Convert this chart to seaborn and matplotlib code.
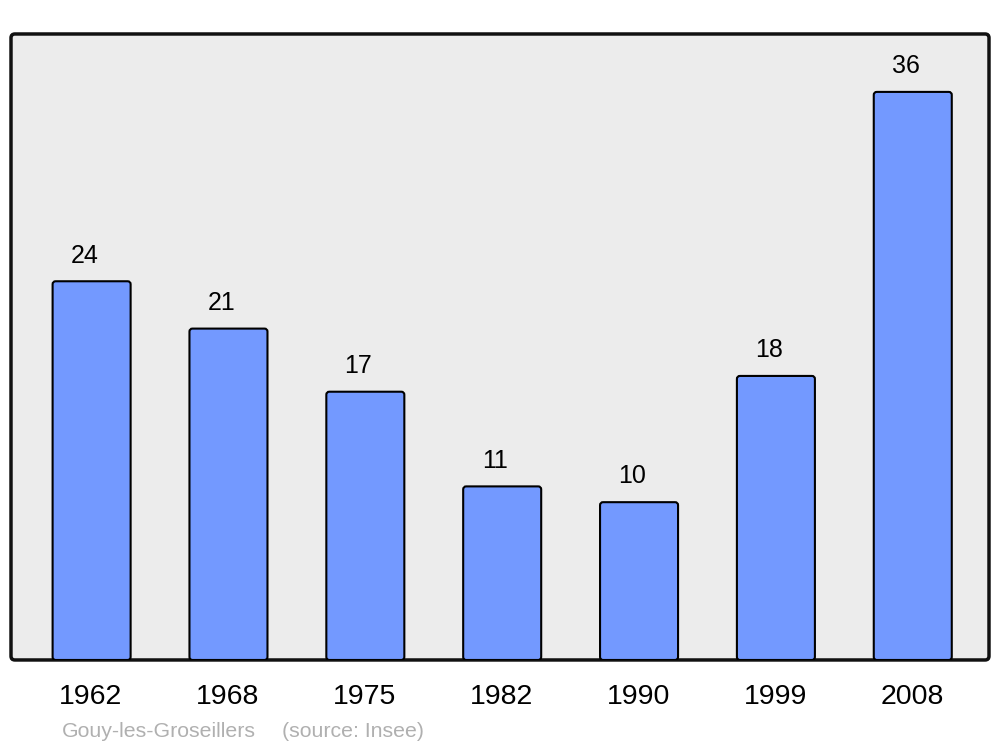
import matplotlib
matplotlib.use('Agg')
import matplotlib.pyplot as plt
from matplotlib.patches import FancyBboxPatch
import seaborn as sns
import pandas as pd

# datos
years = ['1962', '1968', '1975', '1982', '1990', '1999', '2008']
population = [24, 21, 17, 11, 10, 18, 36]
commune = 'Gouy-les-Groseillers'
source = '(source: Insee)'

df = pd.DataFrame({'year': years, 'pop': population})

sns.set_style('white')
plt.rcParams['font.family'] = ['Liberation Sans', 'DejaVu Sans']

fig = plt.figure(figsize=(10, 7.47), dpi=100)
ax = fig.add_axes([0.011, 0.1165, 0.978, 0.838])

sns.barplot(data=df, x='year', y='pop', color='#7399ff', width=0.57,
            saturation=1, edgecolor='black', linewidth=1.5, ax=ax)

ax.set_xlim(-0.584, 6.562)
ax.set_ylim(0, 39.67)

# reemplazar barras por rectangulos redondeados
px_x = 978 / (6.562 + 0.584)
px_y = 626 / 39.67
for p in list(ax.patches):
    x, y = p.get_x(), p.get_y()
    w, h = p.get_width(), p.get_height()
    p.remove()
    rb = FancyBboxPatch((x + 0.005, y), w, h,
                        boxstyle='round,pad=0,rounding_size=%f' % (3 / px_x),
                        mutation_aspect=px_x / px_y,
                        facecolor='#7399ff', edgecolor='black', linewidth=1.5,
                        zorder=2)
    ax.add_patch(rb)

# fondo con esquinas redondeadas
ax.set_facecolor('none')
for s in ax.spines.values():
    s.set_visible(False)
bg = FancyBboxPatch((0, 0), 1, 1, boxstyle='round,pad=0,rounding_size=0.004',
                    mutation_aspect=978 / 626,
                    transform=ax.transAxes, facecolor='#ececec',
                    edgecolor='#111111', linewidth=2.5, zorder=0, clip_on=False)
ax.add_patch(bg)

for i, v in enumerate(population):
    ax.annotate(str(v), (i, v), xytext=(-4.5, 13.5), textcoords='offset points',
                ha='center', va='baseline', fontsize=18, color='black')

ax.set_xlabel('')
ax.set_ylabel('')
ax.set_yticks([])
ax.tick_params(axis='x', length=0, pad=17, labelsize=20.5, labelcolor='black')

fig.text(0.062, 0.0135, commune, color='#b0b0b0', fontsize=15.3, ha='left', va='baseline')
fig.text(0.282, 0.0135, source, color='#b0b0b0', fontsize=15.3, ha='left', va='baseline')

fig.savefig('out.png', dpi=100)
